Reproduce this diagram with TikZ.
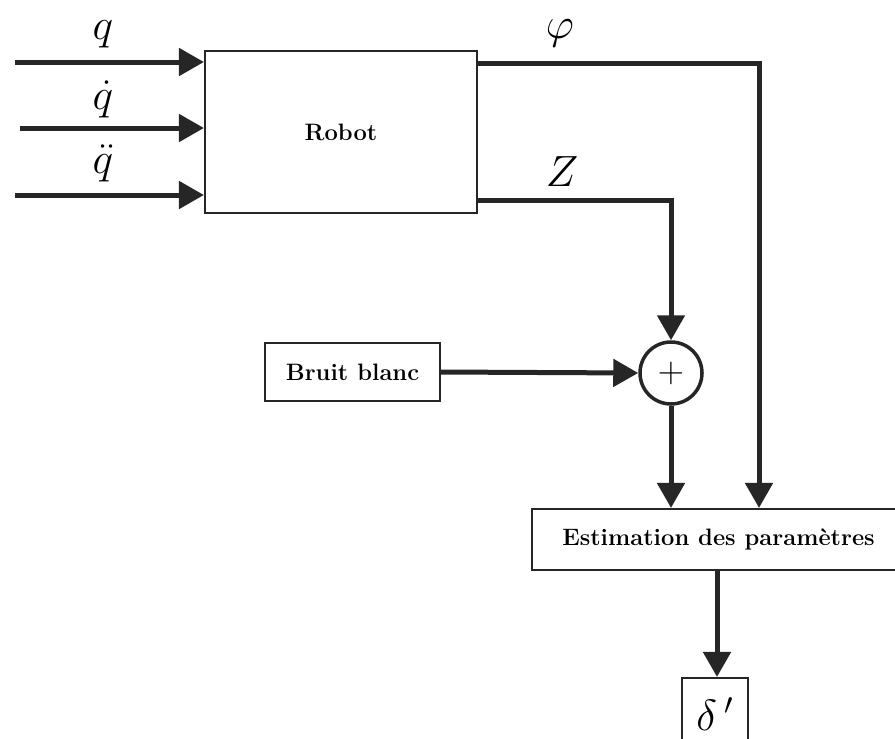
\documentclass[tikz,border=0pt]{standalone}
\usetikzlibrary{arrows.meta,calc}
\tikzset{
    block/.style={shape=rectangle, draw=black!85, line width=1.2pt, fill=white, font=\fontsize{13.5}{15}\selectfont\bfseries},
    sig/.style={draw=black!85, line width=0.1cm, -{Triangle[length=0.5cm, width=0.54cm]}},
    lbl/.style={inner sep=0pt, font=\fontsize{24}{28}\selectfont}
}
\begin{document}
\begin{tikzpicture}[x=0.02cm, y=-0.02cm]
        \useasboundingbox (0,0) rectangle (895,738);
        \node[name=robot, block, minimum width=5.44cm, minimum height=3.24cm] at (341,132) {Robot};
        \node[name=bruit, block, minimum width=3.5cm, minimum height=1.16cm] at (352.5,372) {Bruit blanc};
        \node[name=sum, shape=circle, draw=black!85, line width=2pt, minimum size=1.24cm, inner sep=0pt, font=\fontsize{20}{22}\selectfont] at (671,373) {$+$};
        \node[name=estim, block, minimum width=7.46cm, minimum height=1.22cm] at (718.5,539.5) {Estimation des param\`etres};
        \node[name=delta, block, minimum width=1.32cm, minimum height=1.44cm, font=\fontsize{24}{28}\selectfont\mdseries] at (715,714) {$\delta\,'$};
        % inputs
        \coordinate (in0) at (15,62);
        \coordinate (in1) at (20,128);
        \coordinate (in2) at (15,195);
        \draw[sig] (in0) -- (in0 -| robot.west);
        \draw[sig] (in1) -- (in1 -| robot.west);
        \draw[sig] (in2) -- (in2 -| robot.west);
        \node[name=lq, lbl] at (103,34) {$q$};
        \node[name=lqd, lbl] at (103,99) {$\dot q$};
        \node[name=lqdd, lbl] at (103,163) {$\ddot q$};
        % outputs
        \coordinate (phiout) at (477,63);
        \coordinate (phicorner) at (759,63);
        \draw[sig] (phiout) -- (phicorner) -- (phicorner |- estim.north);
        \node[name=lphi, lbl] at (560,33) {$\varphi$};
        \coordinate (zout) at (477,200);
        \coordinate (zcorner) at (671,200);
        \draw[sig] (zout) -- (zcorner) -- (sum.north);
        \node[name=lz, lbl] at (562,172) {$Z$};
        \draw[sig] (bruit.east) -- (sum.west);
        \draw[sig] (sum.south) -- (sum.south |- estim.north);
        \coordinate (estout) at (717,570);
        \draw[sig] (estout) -- (estout |- delta.north);
    \end{tikzpicture}
\end{document}
